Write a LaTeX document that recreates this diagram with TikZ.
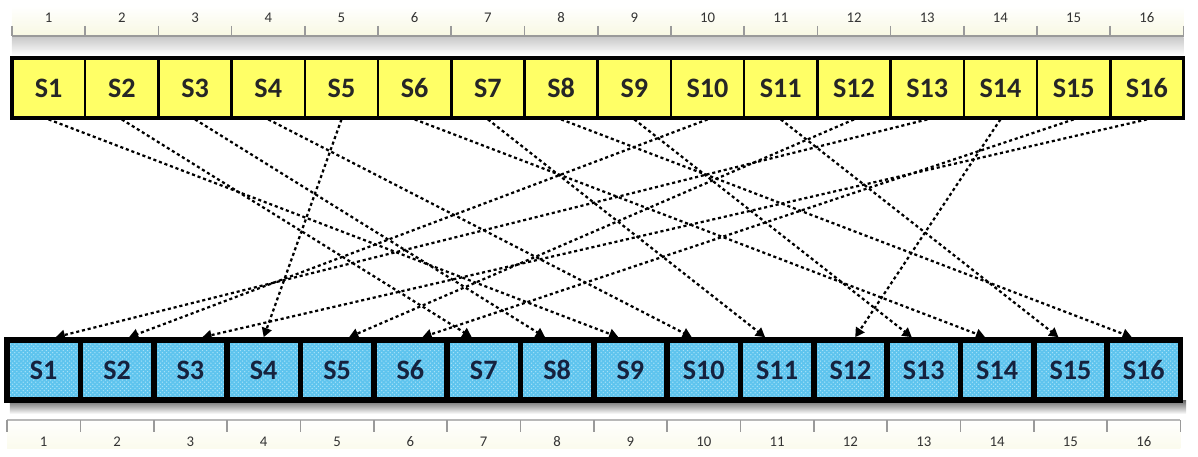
\documentclass[tikz,border=0pt]{standalone}
\usepackage{fontspec}
\setmainfont{Carlito}
\usepackage{tikz}
\usetikzlibrary{arrows.meta,positioning,patterns,backgrounds}
\definecolor{sbyel}{HTML}{FFFF66}
\definecolor{sbblue}{HTML}{5EC4EE}
\definecolor{sbhatch}{HTML}{A8E2F8}
\definecolor{sbtext}{HTML}{16223E}
\definecolor{rulgray}{HTML}{9A9A9A}
\definecolor{rulcream}{HTML}{F8F8E2}
\tikzset{
  >={Triangle[length=2.3mm,width=2.5mm]},
  tbox/.style={draw=black,line width=1.8pt,fill=sbyel,minimum width=18.3mm,minimum height=15mm,
    outer sep=0pt,inner sep=0pt,text=black!85,font=\fontsize{20}{22}\selectfont\bfseries},
  bbox/.style={draw=black,line width=4pt,preaction={fill=sbblue},pattern=crosshatch dots,pattern color=sbhatch,
    minimum width=18.33mm,minimum height=15mm,outer sep=0pt,inner sep=0pt,text=sbtext,font=\fontsize{20}{22}\selectfont\bfseries},
  num/.style={font=\fontsize{10.5}{12}\selectfont,text=black!80},
  tickmark/.style={draw=rulgray,line width=1.2pt},
  permarr/.style={->,draw=black,line width=1.6pt,dash pattern=on 2.2pt off 2pt},
}

\begin{document}
\begin{tikzpicture}[x=0.025cm,y=0.025cm]
\useasboundingbox (0,0) rectangle (1198,456);
% input S-boxes
\node[tbox] (t1) at (48.6,368) {S1};
\foreach \i [remember=\i as \j (initially 1)] in {2,...,16}
  \node[tbox,right=0pt of t\j] (t\i) {S\i};
\draw[line width=2.8pt] (t1.north west) rectangle (t16.south east);
% output S-boxes
\node[bbox] (b1) at (43.7,86) {S1};
\foreach \i [remember=\i as \j (initially 1)] in {2,...,16}
  \node[bbox,right=0pt of b\j] (b\i) {S\i};
% rulers
\begin{scope}[on background layer]
\shade[top color=white,bottom color=rulcream] (t1.north west |- 0,450) rectangle (t16.north east |- 0,420);
\shade[top color=black!20,bottom color=white] (t1.north west |- 0,418) rectangle (t16.north east |- 0,400);
\shade[top color=black!60,bottom color=white] ([xshift=2pt]b1.south west) rectangle ([xshift=4pt]b16.south east |- 0,42);
\shade[top color=white,bottom color=rulcream!60] (b1.south west |- 0,38) rectangle (b16.south east |- 0,8);
\end{scope}
\draw[rulgray,line width=1pt] (t1.north west |- 0,420) -- (t16.north east |- 0,420);
\draw[rulgray!70,line width=1pt] (b1.south west |- 0,36) -- (b16.south east |- 0,36);
\foreach \i in {1,...,16}{
  \node[num] (tn\i) at (t\i |- 0,438) {\i};
  \node[num] (bn\i) at (b\i |- 0,14) {\i};
  \draw[tickmark] (t\i.north west |- 0,430) -- (t\i.north west |- 0,420);
  \draw[tickmark] (b\i.south west |- 0,36) -- (b\i.south west |- 0,24);
}
\draw[tickmark] (t16.north east |- 0,430) -- (t16.north east |- 0,420);
\draw[tickmark] (b16.south east |- 0,36) -- (b16.south east |- 0,24);
% permutation
\foreach \s/\t/\d in {1/9/-3,2/7/-3,3/8/-3,4/10/-3,5/4/0,6/14/-3,7/11/-3,8/16/-3,
    9/13/-3,10/2/3,11/15/-3,12/5/3,13/1/3,14/12/1.2,15/6/3,16/3/3}
  \draw[permarr] ([yshift=-1pt]t\s.south) -- ([xshift=\d mm,yshift=2pt]b\t.north);
\end{tikzpicture}
\end{document}
